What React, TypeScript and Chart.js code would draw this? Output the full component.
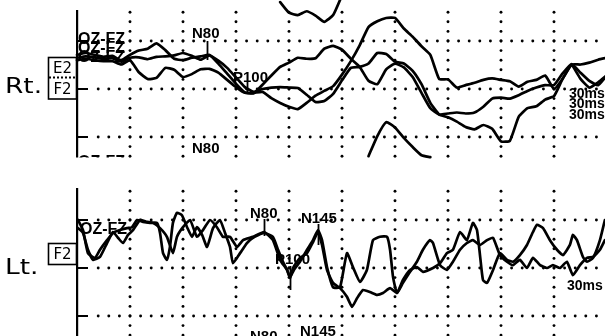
import React, { useEffect, useRef } from 'react';
import { Chart, registerables } from 'chart.js';

Chart.register(...registerables);

// ---------- DATA (time in ms, amplitude in µV) ----------
// Right-eye stimulation (Rt.) traces, sampled every 5 ms
const timeRt = [
  0, 5, 10, 15, 20, 25, 30, 35, 40, 45, 50, 55, 60, 65, 70, 75, 80, 85, 90, 95,
  100, 105, 110, 115, 120, 125, 130, 135, 140, 145, 150, 155, 160, 165, 170, 175, 180, 185, 190, 195,
  200, 205, 210, 215, 220, 225, 230, 235, 240, 245, 250, 255, 260, 265, 270, 275, 280, 285, 290, 295, 300,
];
const rtTrace1 = [
  7.1, 7.5, 7.1, 6.7, 6.9, 6.0, 7.1, 8.0, 8.4, 9.5, 8.1, 6.3, 6.0, 6.5, 6.8, 7.1, 5.3, 3.2, 1.1, -0.7,
  -0.9, 0.9, 2.8, 4.6, 5.5, 6.5, 6.3, 6.4, 8.4, 9.0, 8.2, 6.3, 4.6, 1.7, 1.0, 4.1, 5.3, 4.5, 2.5, -0.8,
  -4.0, -5.3, -5.1, -4.9, -5.1, -4.9, -3.7, -2.0, -1.8, -2.0, -1.3, -0.4, 0.3, 0.8, 0.8, 3.3, 5.2, 3.4, 1.7, 0.8, 2.9,
];
const rtTrace2 = [
  6.0, 6.3, 6.0, 5.8, 5.8, 5.1, 6.0, 3.5, 2.1, 2.3, 4.4, 4.0, 2.5, 3.1, 4.1, 4.2, 3.4, 1.9, 0.4, -0.8,
  -0.8, -0.6, -1.9, -2.9, -3.7, -4.2, -2.9, -1.4, -0.4, 0.6, 3.0, 5.8, 9.1, 12.9, 14.1, 14.8, 14.8, 12.6, 10.9, 8.9,
  7.1, 2.1, 2.0, 0.3, 0.8, 1.3, 1.9, 2.2, 1.9, 1.6, 0.5, 1.5, 1.9, 2.8, 0.0, 2.2, 5.1, 5.1, 5.5, 6.1, 6.5,
];
const rtTrace3 = [
  6.5, 6.8, 6.6, 6.3, 6.4, 5.7, 6.5, 6.6, 6.2, 6.7, 6.8, 7.0, 7.5, 6.9, 6.1, 7.0, 5.9, 4.4, 2.4, 0.4,
  -0.6, 0.0, 0.3, 0.4, 0.3, 0.2, -1.2, -2.7, -2.5, -1.0, 1.8, 4.4, 4.6, 5.3, 7.5, 7.3, 5.7, 5.3, 3.8, 1.0,
  -2.9, -5.3, -5.9, -6.8, -7.9, -8.4, -7.5, -8.3, -10.9, -10.8, -5.8, -4.0, -3.6, -2.2, -1.5, 2.2, 4.9, 2.1, 0.3, 1.4, 2.9,
];
// fragments of the neighbouring rows that show at the edges of the Rt. panel
const upperNeighbourTime = [115, 120, 125, 130, 135, 140, 145, 150];
const upperNeighbourValue = [18.1, 15.9, 15.4, 16.2, 15.3, 14.0, 15.4, 19.5];
const lowerNeighbourTime = [165, 170, 175, 180, 185, 190, 195, 200];
const lowerNeighbourValue = [-14.0, -9.8, -6.9, -8.0, -10.2, -12.1, -13.8, -14.2];

// Left-eye stimulation (Lt.) traces
const ltTraceATime = [
  0.6, 3.4, 6.2, 10.2, 13.0, 17.0, 20.4, 24.3, 28.3, 31.1, 34.0, 37.4, 41.3, 45.3, 47.0, 48.7, 50.9, 52.6, 54.3, 56.6,
  59.4, 62.3, 65.1, 67.9, 70.8, 73.6, 77.0, 80.9, 83.8, 86.6, 88.3, 92.3, 96.2, 99.6, 105.8, 110.9, 113.8, 116.6, 118.9, 120.6,
  122.3, 124.5, 126.2, 130.2, 133.6, 136.4, 138.7, 141.5, 144.9, 148.9, 152.8, 155.7, 158.5, 161.9, 165.8, 169.8, 173.2, 177.2, 181.1, 184.5,
  188.5, 192.4, 195.8, 201.5, 205.5, 209.4, 212.8, 216.8, 220.7, 224.1, 226.4, 228.1, 229.8, 232.1, 235.5, 239.4, 243.4, 246.8, 250.7, 254.7,
  258.1, 260.4, 263.8, 267.7, 271.7, 275.1, 279.0, 280.7, 283.0, 286.4, 288.7, 292.1, 296.0, 298.8,
];
const ltTraceAValue = [
  10.0, 7.9, 3.1, 2.1, 3.8, 5.8, 7.3, 7.9, 8.3, 8.5, 10.0, 9.6, 9.4, 9.4, 7.3, 3.1, 1.7, 4.4, 9.4, 11.5,
  11.0, 8.5, 6.5, 8.5, 6.9, 4.4, 8.3, 10.0, 7.3, 4.4, 1.0, 3.1, 5.2, 6.3, 7.3, 6.5, 3.8, 1.3, -0.4, -2.1,
  0.0, 1.3, 2.1, 3.1, 5.4, 7.5, 4.8, -0.4, -3.1, -4.2, -6.0, -8.1, -6.3, -4.6, -5.0, -5.6, -5.2, -4.2, -5.2, -2.5,
  -0.4, 0.2, -0.8, 0.0, 1.0, 3.1, 3.8, 7.5, 5.8, 9.4, 7.9, 2.7, -2.5, -3.1, -0.4, 3.1, 1.7, 1.3, 2.7, 4.8,
  7.5, 9.0, 8.3, 5.8, 3.8, 2.7, 4.8, 6.9, 5.8, 2.3, 1.3, 2.1, 5.8, 10.0,
];
const ltTraceBTime = [
  0.6, 3.4, 6.2, 9.1, 13.0, 17.0, 20.4, 23.2, 26.0, 28.9, 31.7, 35.7, 39.6, 43.0, 47.0, 50.9, 54.3, 56.6, 60.0, 64.0,
  67.9, 71.3, 75.3, 79.2, 82.6, 86.6, 90.6, 94.0, 99.6, 105.8, 110.9, 114.9, 118.9, 120.6, 122.8, 126.2, 130.2, 133.6, 136.4, 138.7,
  141.5, 144.9, 148.9, 152.8, 156.2, 160.2, 164.1, 167.5, 171.5, 175.5, 177.2, 178.9, 181.1, 184.5, 188.5, 192.4, 195.8, 199.8, 201.5, 205.5,
  209.4, 212.8, 216.8, 220.7, 224.1, 228.1, 232.1, 235.5, 239.4, 243.4, 246.8, 250.7, 254.7, 258.1, 262.1, 266.0, 269.4, 273.4, 277.3, 280.7,
  284.7, 288.7, 292.1, 296.0, 298.8,
];
const ltTraceBValue = [
  8.3, 7.3, 3.8, 1.7, 2.3, 5.2, 7.5, 6.3, 5.2, 6.9, 7.9, 10.0, 9.6, 9.4, 8.3, 6.5, 3.1, 6.5, 8.5, 10.0,
  6.5, 7.9, 10.0, 8.5, 6.5, 6.5, 4.4, 5.8, 6.5, 7.5, 5.8, 1.7, -0.4, -1.9, -0.4, 1.3, 3.8, 5.8, 7.9, 5.8,
  0.2, -4.0, -4.0, 3.1, 0.2, -2.9, -0.4, 5.8, 6.5, 6.5, 3.8, -1.9, -5.2, -3.1, -0.8, 1.3, 3.8, 5.8, 5.2, 0.6,
  -0.4, 1.3, 3.8, 5.2, 5.8, 4.8, 5.8, 6.3, 2.7, 1.3, 0.6, 1.7, 0.0, 2.1, 0.6, 0.0, 0.6, 0.0, 1.3, -1.5,
  0.6, 2.1, 2.3, 3.8, 5.8,
];

// peak markers (latency in ms)
const rtMarkerLabels = ['N80', 'P100'];
const rtMarkerMs = [73.6, 96.2];
const ltMarkerLabels = ['N80', 'P100', 'N145'];
const ltMarkerMs = [105.8, 120.6, 136.4];

// grid: 30 ms major divisions, 10 µV major divisions
const gridTimesMs = [30, 60, 90, 120, 150, 180, 210, 240, 270, 300];
const gridLevelsUv = [10, 0, -10];
const channelLabelRt = ['E2', 'F2'];
const channelLabelLt = ['F2'];
const derivation = 'OZ-FZ';
const sweepLabel = '30ms';

// ---------- LAYOUT ----------
const W = 605;
const H = 336;
const AXIS_PX = 77;
const PX_PER_MS = 53 / 30;
const PX_PER_UV = 4.8;
const RT_ZERO_PX = 89;
const LT_ZERO_PX = 268;

const pts = (t: number[], v: number[]) => t.map((x, i) => ({ x, y: v[i] }));

const decor = {
  id: 'decor',
  beforeDatasetsDraw(chart: any) {
    const ctx = chart.ctx as CanvasRenderingContext2D;
    const xs = chart.scales.x;
    const yR = chart.scales.yR;
    const yL = chart.scales.yL;
    ctx.save();
    ctx.fillStyle = '#000';
    const dot = (px: number, py: number) => {
      ctx.beginPath();
      ctx.arc(px, py, 1.45, 0, Math.PI * 2);
      ctx.fill();
    };
    const panels = [
      { y: yR, top: 10, bottom: 157.5 },
      { y: yL, top: 188, bottom: 336 },
    ];
    const axisX = xs.getPixelForValue(0);
    for (const p of panels) {
      for (const ms of gridTimesMs) {
        const px = xs.getPixelForValue(ms);
        for (let uv = -16; uv <= 18; uv += 2) {
          const py = p.y.getPixelForValue(uv);
          if (py < p.top || py > p.bottom) continue;
          dot(px, py);
        }
      }
      for (const lvl of gridLevelsUv) {
        const py = p.y.getPixelForValue(lvl);
        for (let ms = 12; ms <= 300; ms += 6) dot(xs.getPixelForValue(ms), py);
        ctx.fillRect(axisX, py - 1, 11, 2);
      }
      ctx.fillRect(axisX - 1, p.top, 2.2, p.bottom - p.top);
    }
    ctx.restore();
  },
  afterDatasetsDraw(chart: any) {
    const ctx = chart.ctx as CanvasRenderingContext2D;
    const xs = chart.scales.x;
    ctx.save();
    ctx.fillStyle = '#000';
    ctx.strokeStyle = '#000';

    // big side labels
    const big = (txt: string, x: number, y: number) => {
      ctx.save();
      ctx.translate(x, y);
      ctx.scale(1.2, 1);
      ctx.font = '22px "DejaVu Sans"';
      ctx.textBaseline = 'alphabetic';
      ctx.fillText(txt, 0, 0);
      ctx.restore();
    };
    big('Rt.', 5, 93);
    big('Lt.', 5, 274);

    // channel boxes
    ctx.lineWidth = 1.6;
    ctx.strokeRect(48.5, 57.5, 28, 41.5);
    ctx.save();
    ctx.setLineDash([2, 2]);
    ctx.lineWidth = 2;
    ctx.beginPath();
    ctx.moveTo(49, 77.5);
    ctx.lineTo(76, 77.5);
    ctx.stroke();
    ctx.restore();
    ctx.strokeRect(48.5, 243.5, 28, 21);
    ctx.font = '15px "DejaVu Sans"';
    ctx.textAlign = 'center';
    ctx.fillText(channelLabelRt[0], 62.5, 73);
    ctx.fillText(channelLabelRt[1], 62.5, 94);
    ctx.fillText(channelLabelLt[0], 62.5, 259);
    ctx.textAlign = 'left';

    // derivation labels
    ctx.font = 'bold 16px "Liberation Sans"';
    ctx.fillText(derivation, 78, 44);
    ctx.fillText(derivation, 78, 53);
    ctx.fillText(derivation, 78, 62);
    ctx.fillText(derivation, 80, 234);
    ctx.save();
    ctx.beginPath();
    ctx.rect(0, 0, W, 157.5);
    ctx.clip();
    ctx.fillText(derivation, 78, 167);
    ctx.restore();

    // peak labels
    ctx.font = 'bold 15px "Liberation Sans"';
    ctx.fillText(rtMarkerLabels[0], 192, 38);
    ctx.fillText(rtMarkerLabels[1], 233, 82);
    ctx.fillText(rtMarkerLabels[0], 192, 153);
    ctx.fillText(ltMarkerLabels[0], 250, 218);
    ctx.fillText(ltMarkerLabels[2], 301, 223);
    ctx.fillText(ltMarkerLabels[1], 275, 264);
    ctx.fillText(ltMarkerLabels[0], 250, 341);
    ctx.fillText(ltMarkerLabels[2], 300, 336);

    ctx.font = 'bold 14px "Liberation Sans"';
    ctx.fillText(sweepLabel, 569, 98);
    ctx.fillText(sweepLabel, 569, 108);
    ctx.fillText(sweepLabel, 569, 119);
    ctx.fillText(sweepLabel, 567, 290);

    // marker ticks
    ctx.lineWidth = 1.8;
    const tick = (ms: number, y0: number, y1: number) => {
      const px = Math.round(xs.getPixelForValue(ms)) + 0.5;
      ctx.beginPath();
      ctx.moveTo(px, y0);
      ctx.lineTo(px, y1);
      ctx.stroke();
    };
    tick(rtMarkerMs[0], 41, 60);
    tick(rtMarkerMs[1], 82, 94);
    tick(ltMarkerMs[0], 219, 236);
    tick(ltMarkerMs[1], 266, 290);
    tick(ltMarkerMs[2], 224, 245);
    ctx.restore();
  },
};

export default function App() {
  const ref = useRef<HTMLCanvasElement>(null);
  useEffect(() => {
    const line = (data: { x: number; y: number }[], axis: string) => ({
      data,
      yAxisID: axis,
      borderColor: '#000',
      borderWidth: 2.7,
      pointRadius: 0,
      tension: 0.15,
      fill: false,
      borderJoinStyle: 'round' as const,
      borderCapStyle: 'round' as const,
    });
    const chart = new Chart(ref.current as HTMLCanvasElement, {
      type: 'line',
      data: {
        datasets: [
          line(pts(timeRt, rtTrace1), 'yR'),
          line(pts(timeRt, rtTrace2), 'yR'),
          line(pts(timeRt, rtTrace3), 'yR'),
          line(pts(upperNeighbourTime, upperNeighbourValue), 'yR'),
          line(pts(lowerNeighbourTime, lowerNeighbourValue), 'yR'),
          line(pts(ltTraceATime, ltTraceAValue), 'yL'),
          line(pts(ltTraceBTime, ltTraceBValue), 'yL'),
        ] as any,
      },
      options: {
        animation: false,
        responsive: false,
        events: [],
        layout: { padding: 0 },
        plugins: { legend: { display: false }, tooltip: { enabled: false } },
        scales: {
          x: { type: 'linear', display: false, min: -AXIS_PX / PX_PER_MS, max: (W - AXIS_PX) / PX_PER_MS },
          yR: {
            type: 'linear',
            display: false,
            min: (RT_ZERO_PX - H) / PX_PER_UV,
            max: RT_ZERO_PX / PX_PER_UV,
          },
          yL: {
            type: 'linear',
            display: false,
            min: (LT_ZERO_PX - H) / PX_PER_UV,
            max: LT_ZERO_PX / PX_PER_UV,
          },
        },
      },
      plugins: [decor],
    });
    return () => chart.destroy();
  }, []);
  return (
    <div style={{ position: 'fixed', left: 0, top: 0, width: W, height: H, background: '#fff' }}>
      <canvas ref={ref} width={W} height={H} style={{ display: 'block', width: W, height: H }} />
    </div>
  );
}
